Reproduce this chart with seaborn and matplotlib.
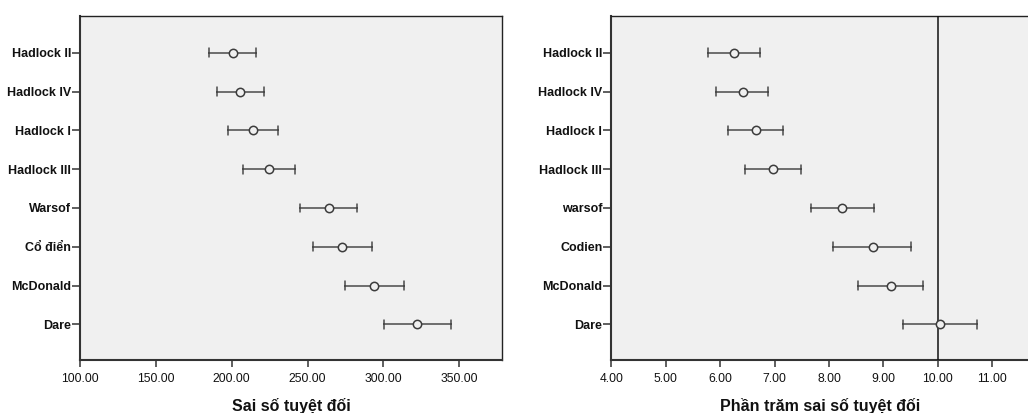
import numpy as np
import pandas as pd
import seaborn as sns
import matplotlib
matplotlib.use("Agg")
import matplotlib.pyplot as plt

# ---- data ----
cats_left = ["Hadlock II", "Hadlock IV", "Hadlock I", "Hadlock III",
             "Warsof", "Cổ điển", "McDonald", "Dare"]
abs_lower = [185.2, 190.1, 197.3, 207.4, 245.0, 253.3, 274.4, 300.6]
abs_mean = [200.6, 205.7, 213.8, 224.6, 263.9, 272.7, 294.0, 322.3]
abs_upper = [216.2, 221.5, 230.5, 241.7, 282.8, 292.4, 313.3, 344.5]
left_ticks = [100, 150, 200, 250, 300, 350]

cats_right = ["Hadlock II", "Hadlock IV", "Hadlock I", "Hadlock III",
              "warsof", "Codien", "McDonald", "Dare"]
pct_lower = [5.78, 5.92, 6.14, 6.46, 7.67, 8.08, 8.54, 9.36]
pct_mean = [6.25, 6.41, 6.65, 6.97, 8.24, 8.80, 9.13, 10.04]
pct_upper = [6.73, 6.88, 7.15, 7.48, 8.83, 9.51, 9.72, 10.71]
right_ticks = [4, 5, 6, 7, 8, 9, 10, 11]
ref_value = 10.0

sns.set_theme(style="white")
plt.rcParams["font.family"] = ["Liberation Sans", "DejaVu Sans"]

BG = "#f0f0f0"
EC = "#3c3c3c"


def long_table(cats, lo, mid, hi):
    rows = []
    for c, a, b, d in zip(cats, lo, mid, hi):
        for v in (a, b, d):
            rows.append({"cat": c, "val": v})
    return pd.DataFrame(rows)


fig = plt.figure(figsize=(10.28, 4.13), dpi=100)
ax1 = fig.add_axes([0.0778, 0.1283, 0.4105, 0.8329])
ax2 = fig.add_axes([0.5947, 0.1283, 0.4053, 0.8329])


def draw(ax, cats, lo, mid, hi, xlim, ticks, xlabel):
    df = long_table(cats, lo, mid, hi)
    ax.set_facecolor(BG)
    sns.pointplot(data=df, x="val", y="cat", order=cats, ax=ax,
                  estimator="median",
                  errorbar=lambda v: (np.min(v), np.max(v)),
                  linestyle="none", markers="o", color=EC,
                  capsize=0.23,
                  err_kws={"linewidth": 1.1, "color": "#4a4a4a"},
                  markersize=6, markerfacecolor=BG, markeredgecolor=EC,
                  markeredgewidth=1.1)
    for ln in ax.lines:
        if ln.get_marker() == "o":
            ln.set_zorder(5)
    ax.set_xlim(*xlim)
    ax.set_ylim(7.92, -0.95)
    ax.set_xticks(ticks)
    ax.set_xticklabels([f"{t:.2f}" for t in ticks], fontsize=8.7, color="#111111")
    ax.set_yticks(range(len(cats)))
    ax.set_yticklabels(cats, fontsize=9, fontweight="bold", color="#111111")
    ax.tick_params(axis="y", direction="out", length=6, width=1.1,
                   color="#333333", pad=0.5, left=True)
    ax.tick_params(axis="x", direction="out", length=5, width=1.1,
                   color="#333333", pad=4, bottom=True)
    ax.set_xlabel(xlabel, fontsize=11.5, fontweight="bold", color="#111111",
                  labelpad=10)
    ax.set_ylabel("")
    for s in ax.spines.values():
        s.set_visible(True)
        s.set_color("#222222")
        s.set_linewidth(1.0)
    ax.spines["left"].set_color("#333333")
    ax.spines["left"].set_linewidth(1.5)
    ax.spines["bottom"].set_color("#333333")
    ax.spines["bottom"].set_linewidth(1.5)


draw(ax1, cats_left, abs_lower, abs_mean, abs_upper, (100, 378.2),
     left_ticks, "Sai số tuyệt đối")
draw(ax2, cats_right, pct_lower, pct_mean, pct_upper, (4, 11.656),
     right_ticks, "Phần trăm sai số tuyệt đối")
ax2.axvline(ref_value, color="#111111", linewidth=1.1, zorder=4)
ax2.spines["right"].set_visible(False)

fig.savefig("out.png", dpi=100, facecolor="white")
